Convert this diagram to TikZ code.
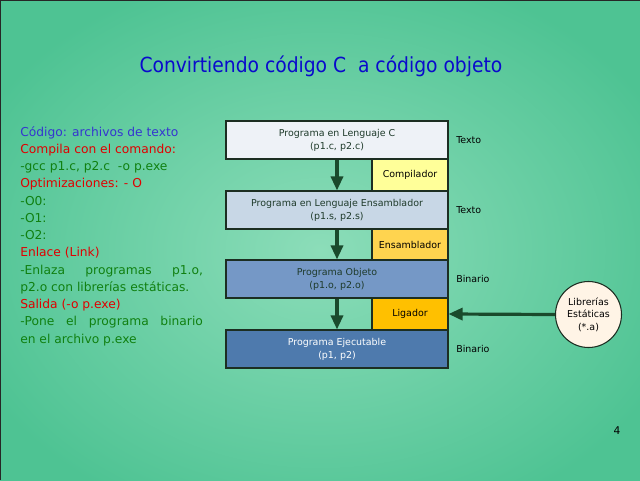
\documentclass[tikz,border=0pt]{standalone}
\usepackage{fontspec}
\setmainfont{DejaVu Sans}
\newfontfamily\condfont{DejaVu Sans Condensed}
\usetikzlibrary{arrows.meta}
\definecolor{bgIn}{HTML}{8CDDB9}
\definecolor{bgOut}{HTML}{4EC393}
\definecolor{ttl}{HTML}{0A0ACC}
\definecolor{tblue}{HTML}{3535D0}
\definecolor{tred}{HTML}{E00000}
\definecolor{tgreen}{HTML}{108010}
\definecolor{arrc}{HTML}{1A4A2C}
\definecolor{edge}{HTML}{1C2E22}
\definecolor{fA}{HTML}{EEF2F7}
\definecolor{fB}{HTML}{C8D7E6}
\definecolor{fC}{HTML}{7598C6}
\definecolor{fD}{HTML}{4E7AAD}
\definecolor{yA}{HTML}{FFFF99}
\definecolor{yB}{HTML}{FFD44F}
\definecolor{yC}{HTML}{FFC000}
\definecolor{cream}{HTML}{FFF4E6}
\definecolor{boxtxt}{HTML}{1E3A2A}
\begin{document}
\begin{tikzpicture}[x=0.75pt,y=-0.75pt,
  lefttxt/.style={anchor=base west,inner sep=0pt,font=\fontsize{9.2}{10}\selectfont},
  bigbox/.style={draw=edge,line width=0.8pt,minimum width=166.5pt,minimum height=28.5pt,inner sep=0pt,align=center,font=\fontsize{7.1}{9.75}\selectfont,text=boxtxt},
  toolbox/.style={draw=edge,line width=0.8pt,minimum width=57pt,minimum height=24pt,inner sep=0pt,font=\fontsize{7.1}{9.75}\selectfont,text=black},
  sidelbl/.style={anchor=west,inner sep=0pt,font=\fontsize{7.1}{9.75}\selectfont},
  arr/.style={draw=arrc,line width=2.4pt,-{Triangle[width=9pt,length=10.5pt]}}]
\useasboundingbox (0,0) rectangle (640,480);
\shade[inner color=bgIn,outer color=bgOut] (-60,-40) rectangle (700,540);
\draw[line width=1.4pt,black!85] (0,480) -- (0,0) -- (640,0);

\node[inner sep=0pt,text=ttl,font=\condfont\fontsize{15.6}{18}\selectfont] (title) at (321,66) {Convirtiendo código C\ \ a código objeto};

\node[lefttxt,text=tblue] (l1) at (20,136) {Código: archivos de texto};
\node[lefttxt,text=tred] (l2) at (20,153.25) {Compila con el comando:};
\node[lefttxt,text=tgreen] (l3) at (20,170.5) {-gcc p1.c, p2.c\ \ -o p.exe};
\node[lefttxt,text=tred] (l4) at (20,187.75) {Optimizaciones: - O};
\node[lefttxt,text=tgreen] (l5) at (20,205) {-O0:};
\node[lefttxt,text=tgreen] (l6) at (20,222.25) {-O1:};
\node[lefttxt,text=tgreen] (l7) at (20,239.5) {-O2:};
\node[lefttxt,text=tred] (l8) at (20,256.75) {Enlace (Link)};
\node[lefttxt,text=tgreen] (l9) at (20,274) {\makebox[137pt][s]{-Enlaza programas p1.o,}};
\node[lefttxt,text=tgreen] (l10) at (20,291.25) {p2.o con librerías estáticas.};
\node[lefttxt,text=tred] (l11) at (20,308.5) {Salida (-o p.exe)};
\node[lefttxt,text=tgreen] (l12) at (20,325.75) {\makebox[137pt][s]{-Pone el programa binario}};
\node[lefttxt,text=tgreen] (l13) at (20,343) {en el archivo p.exe};

\node[bigbox,fill=fA] (b1) at (337,140) {Programa en Lenguaje C\\(p1.c, p2.c)};
\node[toolbox,fill=yA] (t1) at (410,175) {Compilador};
\node[bigbox,fill=fB] (b2) at (337,210) {Programa en Lenguaje Ensamblador\\(p1.s, p2.s)};
\node[toolbox,fill=yB,minimum height=23.25pt] (t2) at (410,244.5) {Ensamblador};
\node[bigbox,fill=fC] (b3) at (337,279) {Programa Objeto\\(p1.o, p2.o)};
\node[toolbox,fill=yC] (t3) at (410,314) {Ligador};
\node[bigbox,fill=fD,text=white] (b4) at (337,349) {Programa Ejecutable\\(p1, p2)};

\node[sidelbl] (s1) at (456,140) {Texto};
\node[sidelbl] (s2) at (456,210) {Texto};
\node[sidelbl] (s3) at (456,279) {Binario};
\node[sidelbl] (s4) at (456,349) {Binario};

\node[circle,draw=edge,line width=0.8pt,fill=cream,minimum size=49.5pt,inner sep=0pt,align=center,font=\fontsize{7.1}{9.4}\selectfont] (lib) at (588.5,314.5) {Librerías\\Estáticas\\(*.a)};

\draw[arr] (b1.south) -- (b2.north);
\draw[arr] (b2.south) -- (b3.north);
\draw[arr] (b3.south) -- (b4.north);
\draw[arr] (lib.west) -- (t3.east);

\node[inner sep=0pt,font=\fontsize{8}{10}\selectfont] (pg) at (617,431) {4};
\end{tikzpicture}
\end{document}
